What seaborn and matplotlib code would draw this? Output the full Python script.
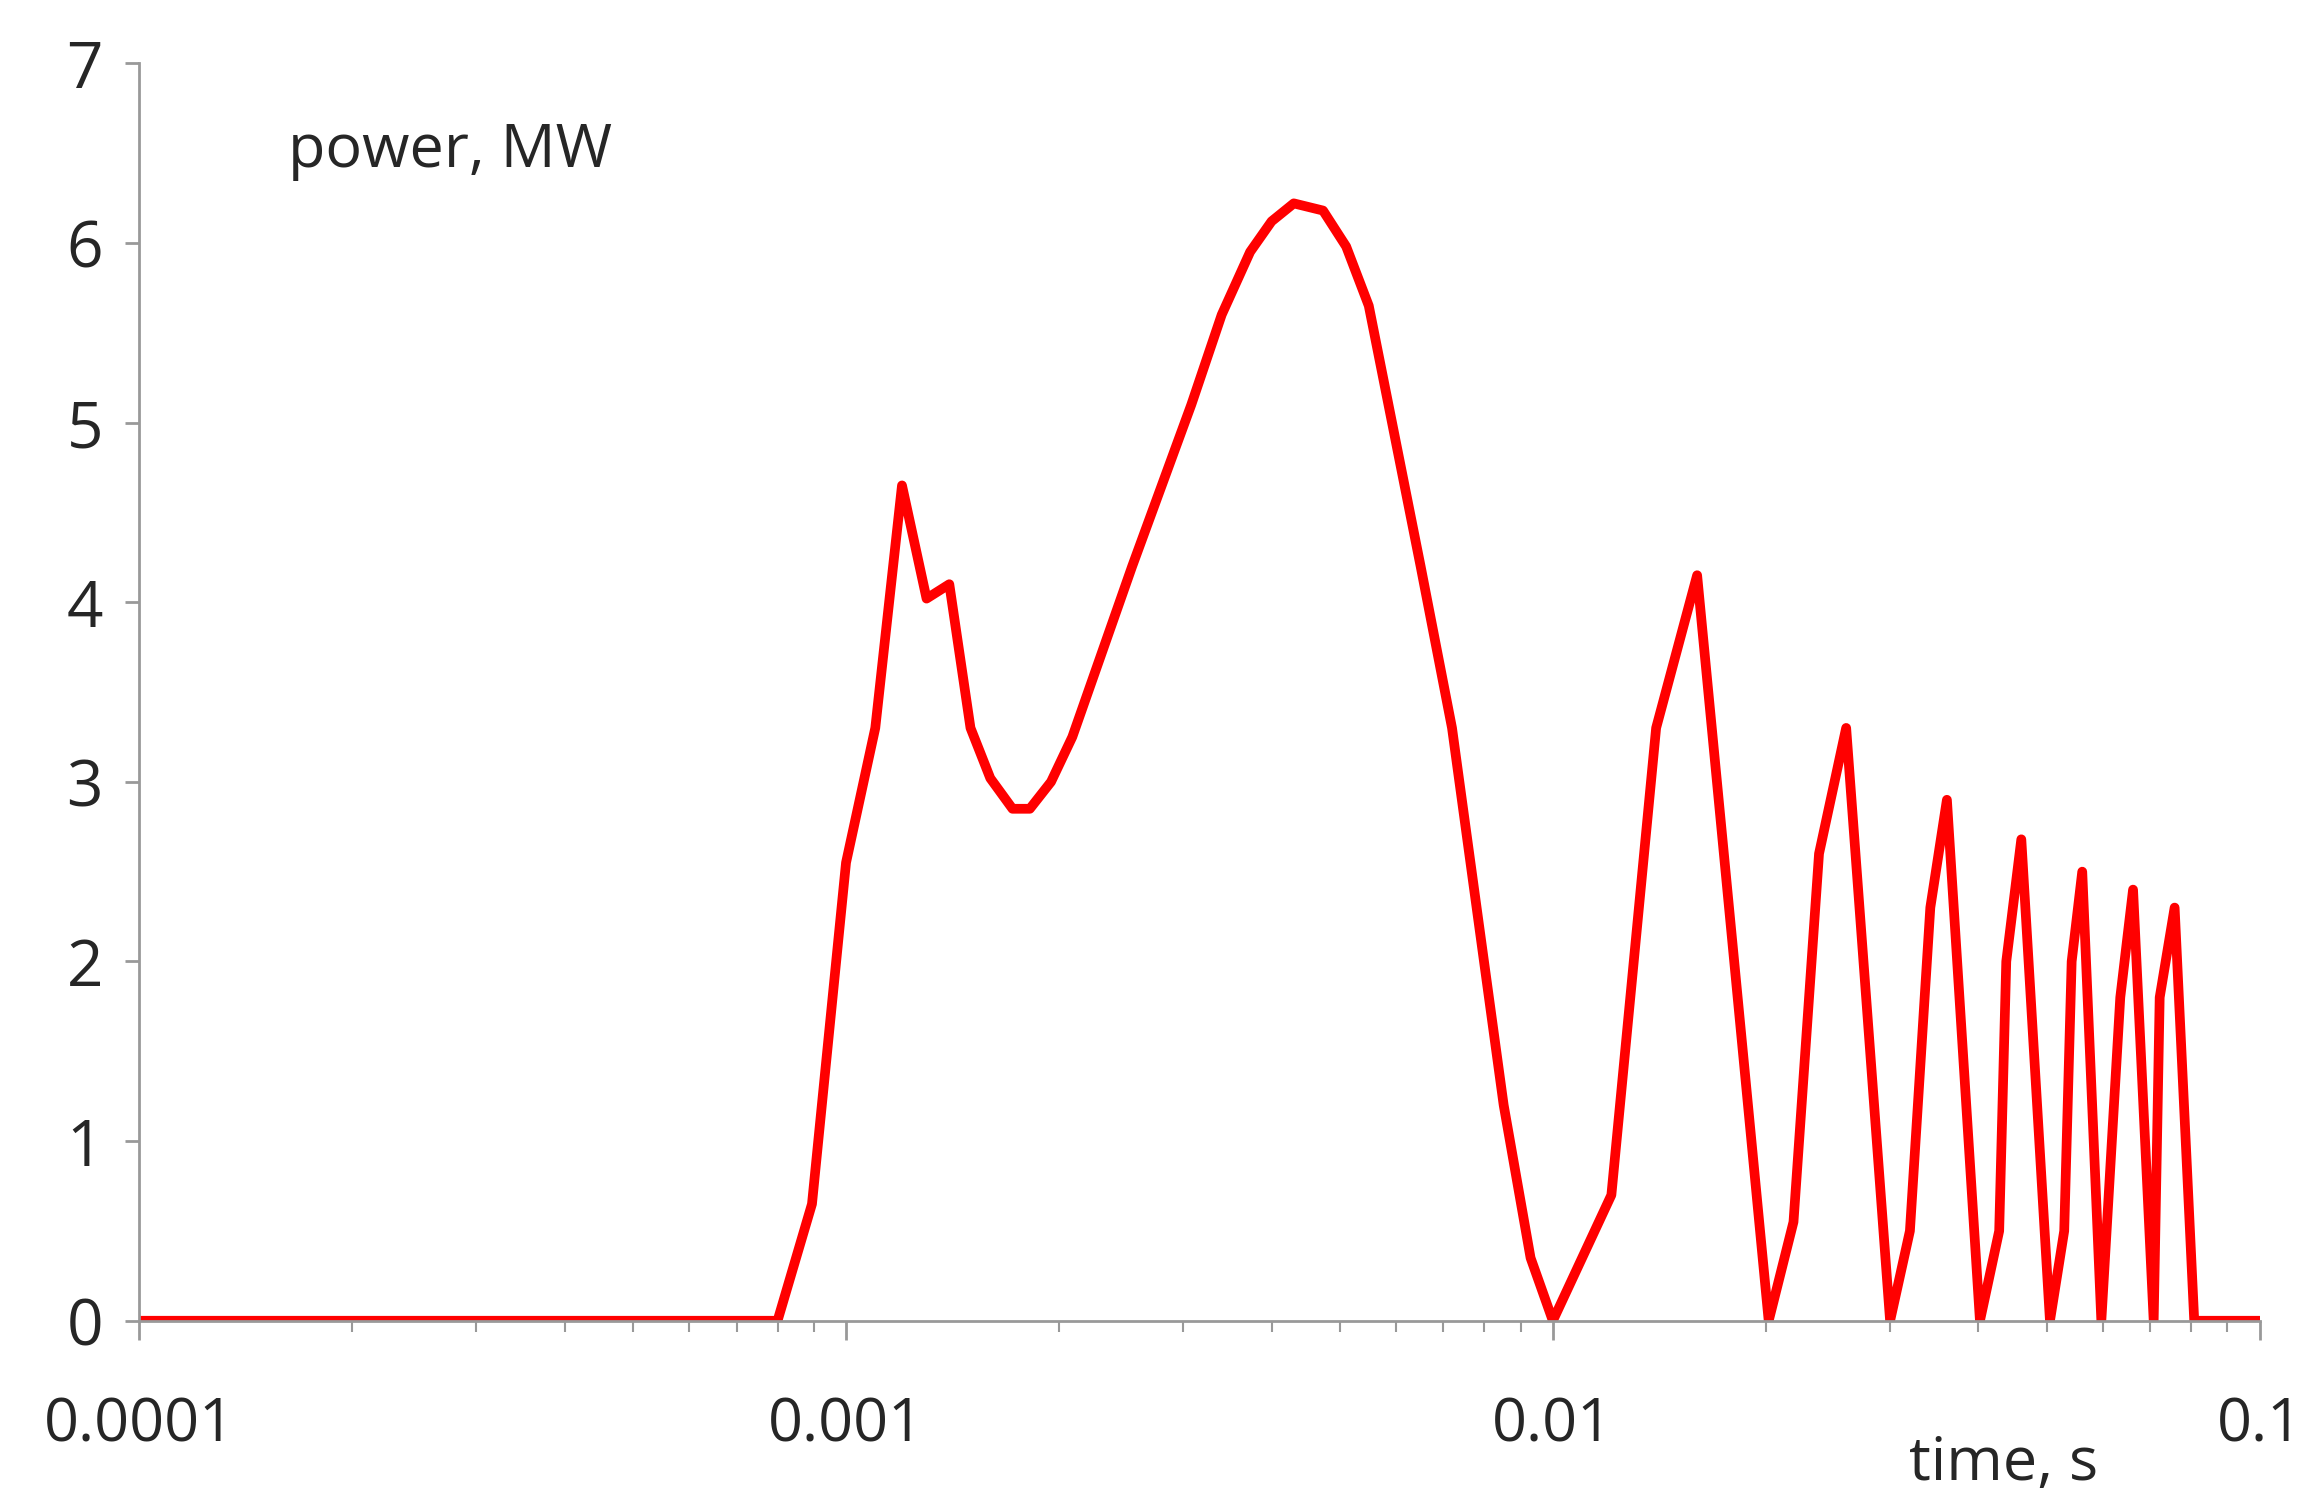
import matplotlib
matplotlib.use("Agg")
import matplotlib.pyplot as plt
import seaborn as sns
import pandas as pd
from matplotlib.ticker import FixedLocator, LogLocator, NullFormatter

time_s = [0.0001, 0.0008, 0.000895, 0.001, 0.0011, 0.0012, 0.0013, 0.0014, 0.0015, 0.0016, 0.00172, 0.00182,
          0.00195, 0.00209, 0.00254, 0.00308, 0.0034, 0.00373, 0.004, 0.0043, 0.00473, 0.0051, 0.00549,
          0.0065, 0.0072, 0.00852, 0.0093, 0.01,
          0.0121, 0.0140, 0.0160, 0.0202, 0.0219, 0.0238, 0.0260, 0.0300, 0.0320, 0.0342, 0.0361,
          0.0402, 0.0428, 0.0438, 0.0460, 0.0505, 0.0529, 0.0542, 0.0561, 0.0597, 0.0635, 0.0662,
          0.0708, 0.0722, 0.0758, 0.0808, 0.1]
power_mw = [0, 0, 0.65, 2.55, 3.3, 4.65, 4.02, 4.1, 3.3, 3.02, 2.85, 2.85,
            3.0, 3.25, 4.2, 5.1, 5.6, 5.95, 6.12, 6.22, 6.18, 5.98, 5.65,
            4.2, 3.3, 1.2, 0.35, 0,
            0.7, 3.3, 4.15, 0, 0.55, 2.6, 3.3, 0, 0.5, 2.3, 2.9,
            0, 0.5, 2.0, 2.68, 0, 0.5, 2.0, 2.5, 0, 1.8, 2.4,
            0, 1.8, 2.3, 0, 0]
xtick_vals = [0.0001, 0.001, 0.01, 0.1]
xtick_labels = ["0.0001", "0.001", "0.01", "0.1"]

df = pd.DataFrame({"t": time_s, "p": power_mw})
sns.set_style("white")
plt.rcParams["font.family"] = ["Open Sans", "DejaVu Sans"]
plt.rcParams["xtick.bottom"] = True
plt.rcParams["ytick.left"] = True

fig = plt.figure(figsize=(23.2, 15.06), dpi=100)
ax = fig.add_axes([0.06, 0.123, 0.914, 0.835])
sns.lineplot(data=df, x="t", y="p", color="#ff0000", linewidth=7, ax=ax, sort=False)
ax.set_xscale("log")
ax.set_xlim(0.0001, 0.1)
ax.set_ylim(0, 7)
ax.xaxis.set_major_locator(FixedLocator(xtick_vals))
ax.set_xticklabels(xtick_labels)
ax.xaxis.set_minor_locator(LogLocator(base=10, subs=range(2, 10)))
ax.xaxis.set_minor_formatter(NullFormatter())
ax.set_yticks(range(0, 8))
ax.tick_params(axis="x", which="major", bottom=True, direction="out", length=14, width=2, color="#999999",
               labelsize=44, pad=40)
ax.tick_params(axis="x", which="minor", bottom=True, direction="out", length=8, width=1.5, color="#999999")
ax.tick_params(axis="y", left=True, direction="out", length=10, width=2, color="#999999", labelsize=46, pad=16)
for s in ["top", "right"]:
    ax.spines[s].set_visible(False)
for s in ["left", "bottom"]:
    ax.spines[s].set_color("#999999")
    ax.spines[s].set_linewidth(2)
ax.set_xlabel("")
ax.set_ylabel("")
ax.text(0.07, 0.93, "power, MW", transform=ax.transAxes, fontsize=44, va="center")
fig.text(0.823, 0.008, "time, s", fontsize=44, ha="left", va="bottom")
fig.savefig("out.png", dpi=100)
